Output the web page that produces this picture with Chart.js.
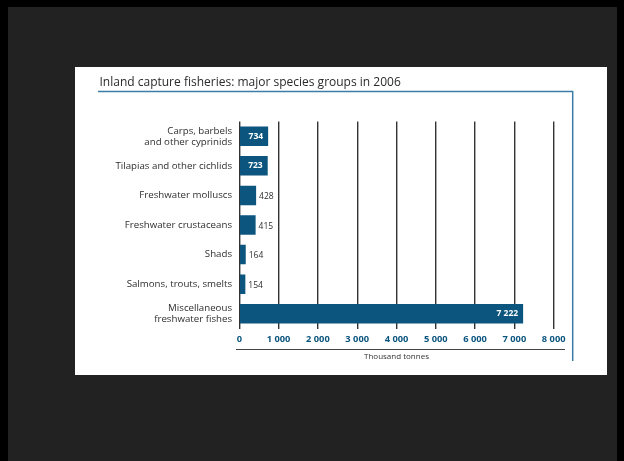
<!DOCTYPE html>
<html>
<head>
<meta charset="utf-8">
<title>Inland capture fisheries</title>
<script src="https://cdn.jsdelivr.net/npm/chart.js@4/dist/chart.umd.min.js"></script>
<style>
  html, body { margin: 0; padding: 0; }
  body { width: 624px; height: 461px; overflow: hidden; position: relative; }
  #frame {
    position: absolute; left: 0; top: 0; width: 624px; height: 461px;
    box-sizing: border-box; background: #222;
    border-top: 7px solid #000; border-left: 8px solid #000; border-right: 7px solid #000;
  }
  #panel {
    position: absolute; left: 75px; top: 67px; width: 532px; height: 308px; background: #fff;
  }
</style>
</head>
<body>
<div id="frame"></div>
<div id="panel"><canvas id="fishChart" width="532" height="308"></canvas></div>
<script>
"use strict";

// species groups, top to bottom
const groups = [
    ["Carps, barbels", "and other cyprinids"],
    "Tilapias and other cichlids",
    "Freshwater molluscs",
    "Freshwater crustaceans",
    "Shads",
    "Salmons, trouts, smelts",
    ["Miscellaneous", "freshwater fishes"]
];

// catch in thousand tonnes
const catchValues = [734, 723, 428, 415, 164, 154, 7222];

const tickLabels = ["0", "1 000", "2 000", "3 000", "4 000", "5 000", "6 000", "7 000", "8 000"];

const chartTitle = "Inland capture fisheries: major species groups in 2006";
const unitLabel = "Thousand tonnes";

const BLUE = "#0b557e";
const TEXT = "#2e2e2e";
const FONT = "'Open Sans', 'Noto Sans', sans-serif";

function spaced(n) {
    return String(n).replace(/\B(?=(\d{3})+(?!\d))/g, " ");
}

// title, blue frame, rule under the axis and the value labels
const decorations = {
    id: "decorations",
    afterDatasetsDraw(chart) {
        const ctx = chart.ctx;
        ctx.save();

        ctx.fillStyle = "#2a2a2a";
        ctx.font = "12px " + FONT;
        ctx.textAlign = "left";
        ctx.textBaseline = "alphabetic";
        ctx.fillText(chartTitle, 24.5, 19);

        ctx.strokeStyle = "#3d7ca6";
        ctx.lineWidth = 1.5;
        ctx.beginPath();
        ctx.moveTo(23, 24.5);
        ctx.lineTo(497.7, 24.5);
        ctx.lineTo(497.7, 294);
        ctx.stroke();

        ctx.strokeStyle = "#444";
        ctx.lineWidth = 1;
        ctx.beginPath();
        ctx.moveTo(161, 282.5);
        ctx.lineTo(490, 282.5);
        ctx.stroke();

        const bars = chart.getDatasetMeta(0).data;
        bars.forEach(function (bar, i) {
            const v = catchValues[i];
            ctx.textBaseline = "middle";
            if (v >= 700) {
                ctx.font = "bold 8.5px " + FONT;
                ctx.fillStyle = "#fff";
                ctx.textAlign = "right";
                ctx.fillText(spaced(v), bar.x - 5, bar.y);
            } else {
                ctx.font = "8.5px " + FONT;
                ctx.fillStyle = TEXT;
                ctx.textAlign = "left";
                ctx.fillText(spaced(v), bar.x + 3, bar.y + 1.5);
            }
        });
        ctx.restore();
    }
};

const ctx = document.getElementById("fishChart").getContext("2d");

new Chart(ctx, {
    type: "bar",
    data: {
        labels: groups,
        datasets: [{
            data: catchValues,
            backgroundColor: BLUE,
            borderWidth: 0,
            barPercentage: 0.66,
            categoryPercentage: 1
        }]
    },
    options: {
        indexAxis: "y",
        responsive: false,
        animation: false,
        events: [],
        layout: {
            padding: { top: 54.5, right: 53.3, bottom: 13.5, left: 0 }
        },
        plugins: {
            legend: { display: false },
            tooltip: { enabled: false }
        },
        scales: {
            x: {
                min: 0,
                max: 8000,
                border: { display: false },
                grid: { color: "#333", lineWidth: 1.4, drawTicks: false },
                ticks: {
                    stepSize: 1000,
                    padding: 5,
                    color: BLUE,
                    font: { family: FONT, size: 9.3, weight: "bold" },
                    callback: function (value, index) { return tickLabels[index]; }
                },
                title: {
                    display: true,
                    text: unitLabel,
                    color: "#333",
                    font: { family: FONT, size: 8 },
                    padding: 0
                },
                afterFit: function (scale) { scale.height = 33; }
            },
            y: {
                border: { display: false },
                grid: { display: false, drawTicks: false },
                ticks: {
                    padding: 7.3,
                    color: TEXT,
                    font: { family: FONT, size: 9.7, lineHeight: 1.13 }
                },
                afterFit: function (scale) { scale.width = 164.3; }
            }
        }
    },
    plugins: [decorations]
});
</script>
</body>
</html>
